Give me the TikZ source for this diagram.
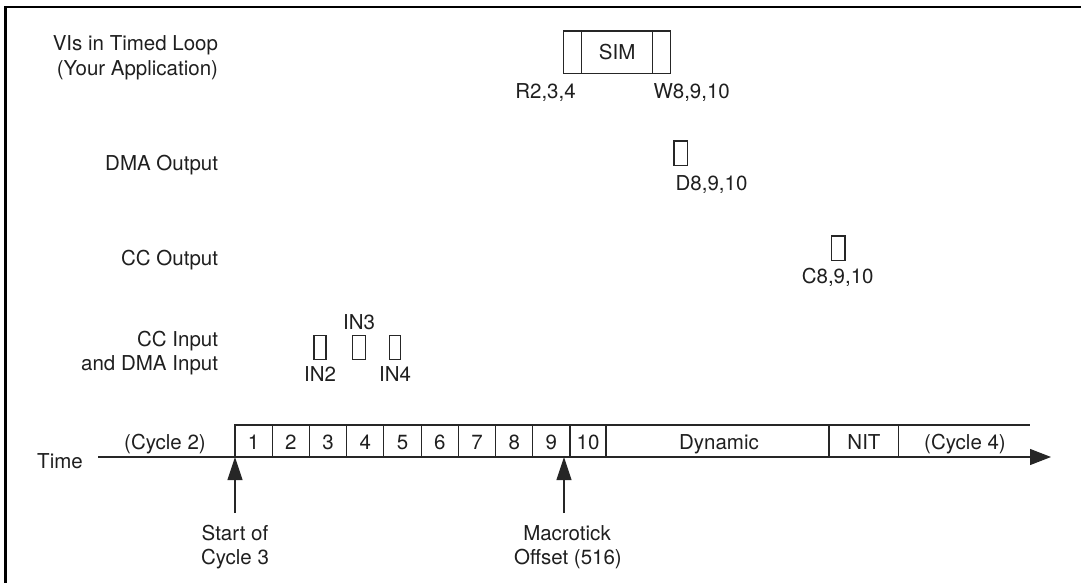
\documentclass[tikz,border=0pt]{standalone}
\usepackage{fontspec}
\setmainfont{TeX Gyre Heros}
\usetikzlibrary{arrows.meta}
\begin{document}
\begin{tikzpicture}[x=1pt,y=-1pt,
  ink/.style={black!85},
  every node/.style={inner sep=0pt, outer sep=0pt, font=\fontsize{20.5}{24}\selectfont, text=black!88},
  txt/.style={anchor=base},
  lbll/.style={anchor=base east},
  box/.style={draw=black!85, line width=1.1pt},
  cell/.style={draw=black!85, line width=1.1pt, minimum height=32pt},
  upar/.style={draw=black!85, line width=1.1pt, -{Triangle[length=23pt,width=15pt]}},
  axis/.style={draw=black!85, line width=1.1pt, -{Triangle[length=21pt,width=16pt]}}]
\useasboundingbox (0,0) rectangle (1081,583);
\draw[line width=2.6pt, black] (5.5,583) -- (5.5,7) -- (1081,7);

% row labels
\node[lbll] (l1a) at (218,51) {VIs in Timed Loop};
\node[lbll] (l1b) at (218,76) {(Your Application)};
\node[lbll] (l2) at (218,170.5) {DMA Output};
\node[lbll] (l3) at (218,265) {CC Output};
\node[lbll] (l4a) at (218,346) {CC Input};
\node[lbll] (l4b) at (218,370) {and DMA Input};

% VIs in timed loop
\node[box, minimum width=71.4pt, minimum height=42.5pt] (sim) at (617.1,52.25) {SIM};
\node[box, minimum width=17.9pt, minimum height=42.5pt, anchor=east] (rd) at (sim.west) {};
\node[box, minimum width=17.6pt, minimum height=42.5pt, anchor=west] (wr) at (sim.east) {};
\node[txt] (r234) at (545.5,99) {R2,3,4};
\node[txt] (w8910) at (691.7,99) {W8,9,10};

% DMA output
\node[box, minimum width=13.3pt, minimum height=24.6pt] (dmab) at (680.6,153.3) {};
\node[txt] (d8910) at (711.5,190.5) {D8,9,10};

% CC output
\node[box, minimum width=13.4pt, minimum height=24.5pt] (ccb) at (838.3,248.2) {};
\node[txt] (c8910) at (837.7,283) {C8,9,10};

% CC input / DMA input
\node[box, minimum width=12pt, minimum height=23.6pt] (in2b) at (320,347.5) {};
\node[box, minimum width=12.7pt, minimum height=23.6pt] (in3b) at (358.7,347.5) {};
\node[box, minimum width=11.7pt, minimum height=23.6pt] (in4b) at (394.9,347.5) {};
\node[txt] (in2) at (320,381) {IN2};
\node[txt] (in3) at (359,329) {IN3};
\node[txt] (in4) at (395,381) {IN4};

% timeline cells
\foreach \i/\l/\r in {1/235/272.2, 2/272.2/309.4, 3/309.4/346.7, 4/346.7/383.9, 5/383.9/421.1,
                      6/421.1/458.3, 7/458.3/495.6, 8/495.6/532.8, 9/532.8/570, 10/570/606}{
  \node[cell, minimum width={\r-\l}] (c\i) at ({(\l+\r)/2},441) {};
  \node[txt] (t\i) at ({(\l+\r)/2},449) {\i};
}
\node[cell, minimum width=223pt] (dyn) at (717.5,441) {};
\node[txt] (tdyn) at (719,449) {Dynamic};
\node[cell, minimum width=69.5pt] (nit) at (863.75,441) {};
\node[txt] (tnit) at (864,449) {NIT};
\coordinate (topend) at (1030,425);
\draw[ink, line width=1.1pt] (nit.north east) -- (topend);
\node[txt] (tc4) at (965,449) {(Cycle 4)};
\node[txt] (tc2) at (165,449) {(Cycle 2)};
\node[txt] (time) at (60,468) {Time};

% time axis
\coordinate (axL) at (98,457);
\coordinate (axR) at (1051,457);
\draw[axis] (axL) -- (axR);

% markers
\coordinate (s1) at (235,513);
\draw[upar] (s1) -- (c1.south west);
\coordinate (s2) at (564,513);
\coordinate (m9) at (564,457);
\draw[upar] (s2) -- (m9);
\node[txt] (st1) at (235,540) {Start of};
\node[txt] (st2) at (235,564) {Cycle 3};
\node[txt] (mo1) at (567,540) {Macrotick};
\node[txt] (mo2) at (568,564) {Offset (516)};
\end{tikzpicture}
\end{document}
